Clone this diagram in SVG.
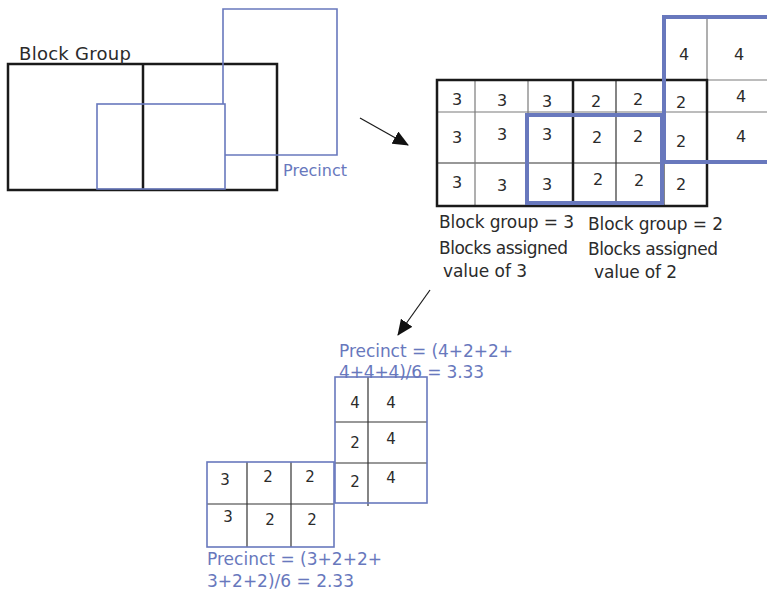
<svg xmlns="http://www.w3.org/2000/svg" width="767" height="593" viewBox="0 0 767 593">
  <style>
    .bg { fill: #ffffff; }
    .blk { fill: none; stroke: #1a1a1a; stroke-width: 2.5; }
    .thin { fill: none; stroke: #7a7a7a; stroke-width: 1.2; }
    .thind { fill: none; stroke: #333333; stroke-width: 1.2; }
    .prc { fill: none; stroke: #6878bd; stroke-width: 1.6; }
    .prcb { fill: none; stroke: #6878bd; stroke-width: 4; }
    .lbl { font-family: "DejaVu Sans", "Liberation Sans", sans-serif; fill: #2b2b2b; }
    .blue { font-family: "DejaVu Sans", "Liberation Sans", sans-serif; fill: #6878bd; }
    .num { font-family: "DejaVu Sans", "Liberation Sans", sans-serif; fill: #2b2b2b; text-anchor: middle; font-size: 16px; }
    .nums { font-family: "DejaVu Sans", "Liberation Sans", sans-serif; fill: #2b2b2b; text-anchor: middle; font-size: 15px; }
    .arr { stroke: #1a1a1a; stroke-width: 1.2; fill: none; }
  </style>
  <defs>
    <marker id="head" viewBox="0 0 16 14" refX="15" refY="7" markerWidth="16" markerHeight="14" markerUnits="userSpaceOnUse" orient="auto">
      <path d="M0,0 L16,7 L0,14 Z" fill="#111111"/>
    </marker>
  </defs>
  <rect class="bg" x="0" y="0" width="767" height="593"/>

  <!-- Block group with overlapping precincts -->
  <g id="block-group">
    <rect class="blk" x="8" y="64" width="269" height="126"/>
    <line class="blk" x1="143" y1="64" x2="143" y2="190"/>
    <text class="lbl" x="19" y="60" font-size="18" textLength="112">Block Group</text>
  </g>
  <g id="precinct-outline">
    <rect class="prc" x="97" y="104" width="128" height="85"/>
    <polyline class="prc" points="225,155 337,155 337,9 223,9 223,104"/>
    <text class="blue" x="283" y="176" font-size="16" textLength="64">Precinct</text>
  </g>

  <!-- Block values grid -->
  <g id="value-grid">
    <!-- thin cell lines -->
    <line class="thin" x1="437" y1="112" x2="767" y2="112"/>
    <line class="thind" x1="437" y1="163" x2="707" y2="163"/>
    <line class="thin" x1="707" y1="80" x2="767" y2="80"/>
    <line class="thin" x1="475" y1="80" x2="475" y2="206"/>
    <line class="thin" x1="528" y1="80" x2="528" y2="206"/>
    <line class="thind" x1="616" y1="80" x2="616" y2="206"/>
    <line class="thind" x1="664" y1="80" x2="664" y2="206"/>
    <line class="thin" x1="707" y1="16" x2="707" y2="80"/>
    <!-- block group borders -->
    <rect class="blk" x="437" y="80" width="270" height="126"/>
    <line class="blk" x1="573" y1="80" x2="573" y2="206"/>
    <!-- precincts -->
    <rect class="prcb" x="527" y="115" width="135" height="88"/>
    <polyline class="prcb" points="767,17 664,17 664,162 767,162"/>
    <!-- values -->
    <text class="num" x="684" y="60">4</text>
    <text class="num" x="739" y="60">4</text>
    <text class="num" x="457" y="105">3</text>
    <text class="num" x="502" y="106">3</text>
    <text class="num" x="547" y="107">3</text>
    <text class="num" x="596" y="107">2</text>
    <text class="num" x="638" y="105">2</text>
    <text class="num" x="681" y="108">2</text>
    <text class="num" x="741" y="102">4</text>
    <text class="num" x="457" y="143">3</text>
    <text class="num" x="502" y="140">3</text>
    <text class="num" x="547" y="140">3</text>
    <text class="num" x="597" y="143">2</text>
    <text class="num" x="638" y="142">2</text>
    <text class="num" x="681" y="147">2</text>
    <text class="num" x="741" y="142">4</text>
    <text class="num" x="457" y="188">3</text>
    <text class="num" x="502" y="191">3</text>
    <text class="num" x="547" y="190">3</text>
    <text class="num" x="598" y="185">2</text>
    <text class="num" x="639" y="186">2</text>
    <text class="num" x="681" y="190">2</text>
  </g>

  <g id="labels">
    <text class="lbl" x="439" y="228" font-size="17" textLength="135">Block group = 3</text>
    <text class="lbl" x="439" y="254" font-size="17" textLength="129">Blocks assigned</text>
    <text class="lbl" x="443" y="277" font-size="17" textLength="84">value of 3</text>
    <text class="lbl" x="588" y="230" font-size="17" textLength="135">Block group = 2</text>
    <text class="lbl" x="588" y="255" font-size="17" textLength="130">Blocks assigned</text>
    <text class="lbl" x="594" y="278" font-size="17" textLength="83">value of 2</text>
  </g>

  <!-- Precinct values -->
  <g id="precinct-upper">
    <line class="thind" x1="368" y1="377" x2="368" y2="506"/>
    <line class="thind" x1="335" y1="422" x2="427" y2="422"/>
    <line class="thind" x1="335" y1="463" x2="427" y2="463"/>
    <rect class="prc" x="335" y="377" width="92" height="126"/>
    <text class="nums" x="355" y="408">4</text>
    <text class="nums" x="391" y="408">4</text>
    <text class="nums" x="355" y="448">2</text>
    <text class="nums" x="391" y="444">4</text>
    <text class="nums" x="355" y="487">2</text>
    <text class="nums" x="391" y="483">4</text>
    <text class="blue" x="339" y="357" font-size="17" textLength="174">Precinct = (4+2+2+</text>
    <text class="blue" x="339" y="378" font-size="17" textLength="145">4+4+4)/6 = 3.33</text>
  </g>
  <g id="precinct-lower">
    <line class="thind" x1="247" y1="462" x2="247" y2="547"/>
    <line class="thind" x1="291" y1="462" x2="291" y2="547"/>
    <line class="thind" x1="207" y1="504" x2="334" y2="504"/>
    <rect class="prc" x="207" y="462" width="127" height="85"/>
    <text class="nums" x="225" y="485">3</text>
    <text class="nums" x="268" y="482">2</text>
    <text class="nums" x="310" y="482">2</text>
    <text class="nums" x="228" y="522">3</text>
    <text class="nums" x="270" y="525">2</text>
    <text class="nums" x="312" y="525">2</text>
    <text class="blue" x="207" y="565" font-size="17" textLength="175">Precinct = (3+2+2+</text>
    <text class="blue" x="207" y="587" font-size="17" textLength="147">3+2+2)/6 = 2.33</text>
  </g>

  <g id="connectors">
    <line class="arr" x1="360" y1="118" x2="408" y2="145" marker-end="url(#head)"/>
    <line class="arr" x1="430" y1="290" x2="398" y2="335" marker-end="url(#head)"/>
  </g>
</svg>
